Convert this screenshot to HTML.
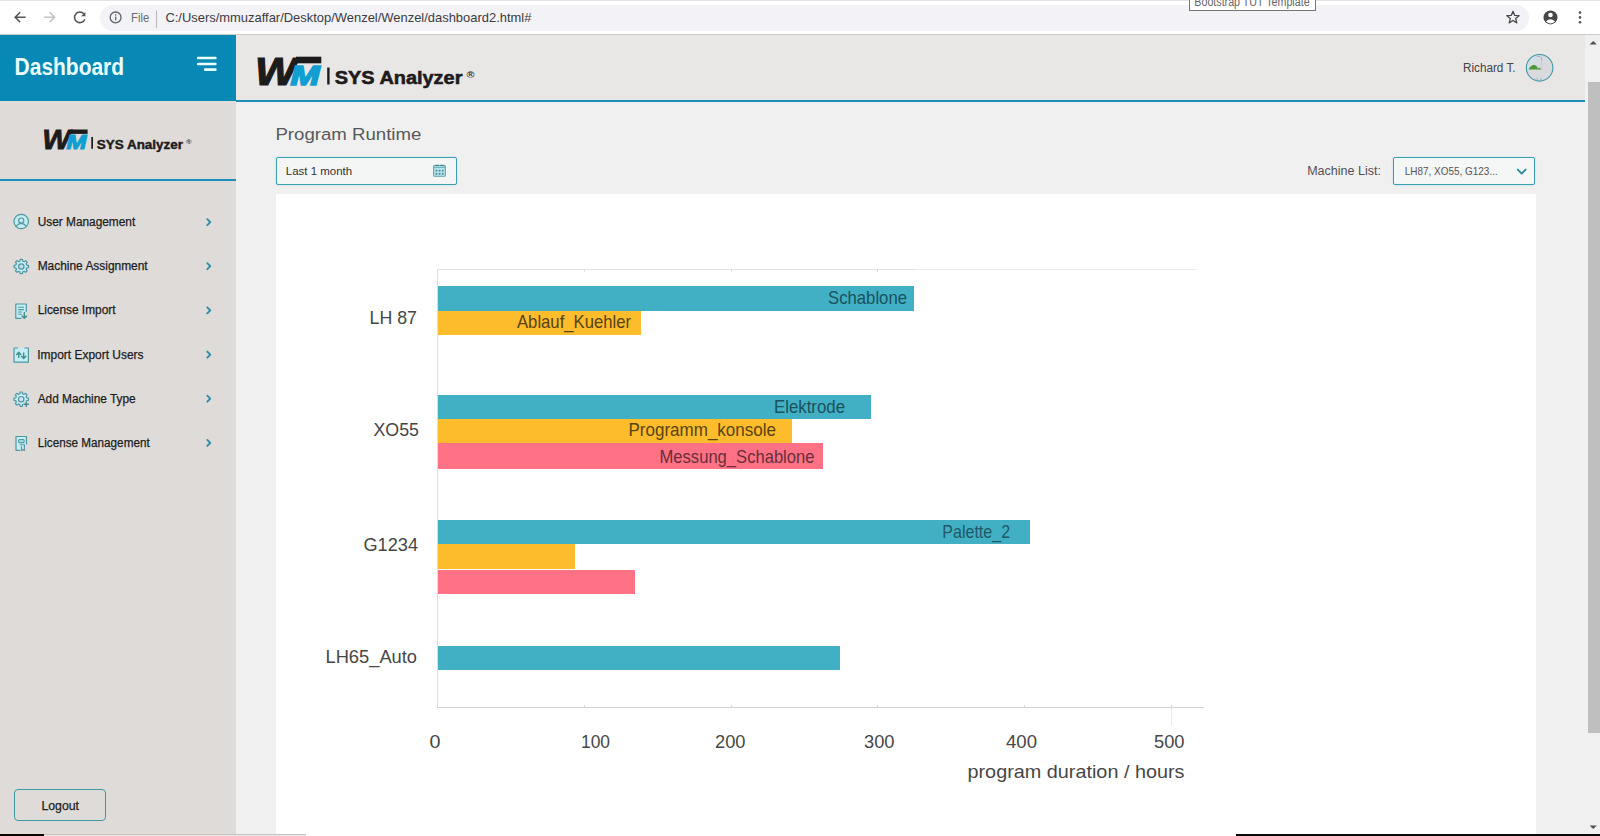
<!DOCTYPE html>
<html lang="en">
<head>
<meta charset="utf-8">
<title>Bootstrap TUT Template</title>
<style>
*{box-sizing:border-box;margin:0;padding:0}
html,body{width:1600px;height:836px;overflow:hidden;background:#f1f0f0;font-family:"Liberation Sans",sans-serif;color:#222}
.abs{position:absolute}
#stage{position:relative;width:1600px;height:836px;overflow:hidden}
/* browser chrome */
#chrome{left:0;top:0;width:1600px;height:35px;background:#fff;border-bottom:1px solid #cbcbcb;border-top:1px solid #e4e4e8}
#omni{left:100px;top:5px;width:1429px;height:26px;border-radius:13px;background:#f2f2f7}
#url{left:165px;top:9px;font-size:13px;color:#333;white-space:nowrap;line-height:16px}
#file{left:131px;top:9px;font-size:13px;color:#666;line-height:16px}
#tip{left:1189px;top:-10px;width:127px;height:21px;border:1px solid #767676;background:#fff}
/* sidebar */
#sidehead{left:0;top:35px;width:236px;height:66px;background:#0889b5}
#dash{left:14px;top:52px;font-size:22px;font-weight:bold;color:#fff;line-height:30px;white-space:nowrap}
#sidebar{left:0;top:101px;width:236px;height:735px;background:#dedbd8}
#sideline{left:0;top:179px;width:236px;height:2px;background:#1a8db8}
.mi{left:0;width:236px;height:24px}
.mi .t{position:absolute;left:37px;top:4px;font-size:12.5px;line-height:16px;color:#1f1f1f;white-space:nowrap}
.mi svg.ic{position:absolute;left:12px;top:3px}
.mi svg.ch{position:absolute;left:204px;top:7px}
#logout{left:14px;top:789px;width:92px;height:32px;border:1.3px solid #3d9aa5;border-radius:4px;font-size:13px;line-height:30px;text-align:center;color:#222}
/* main */
#mainhead{left:236px;top:35px;width:1349px;height:65px;background:#e8e7e6}
#headline{left:236px;top:99.5px;width:1349.5px;height:2px;background:#1a8db8}
#scroll{left:1585px;top:35px;width:15px;height:801px;background:#f1f0f0}
#thumb{left:1587.5px;top:82px;width:12px;height:651px;background:#bfbfbf}
#title{left:275px;top:122px;font-size:18px;line-height:24px;color:#555;white-space:nowrap}
#date{left:276px;top:157px;width:181px;height:28px;background:#f4f5f5;box-shadow:0 0 2px rgba(120,205,225,.6);border:1px solid #3a9fb0;border-radius:2px}
#date .t{position:absolute;left:9px;top:5px;font-size:11.5px;line-height:16px;color:#333;white-space:nowrap}
#mlabel{left:1307px;top:163px;font-size:12.5px;line-height:16px;color:#444;white-space:nowrap}
#msel{left:1393px;top:157px;width:142px;height:28px;background:#f5f6f6;box-shadow:0 0 2px rgba(120,205,225,.6);border:1px solid #3a9fb0;border-radius:2px}
#msel .t{position:absolute;left:11px;top:6px;font-size:10.5px;line-height:14px;color:#444;white-space:nowrap}
#card{left:276px;top:194px;width:1260px;height:642px;background:#fff}
</style>
</head>
<body>
<div id="stage">
  <!-- main area -->
  <div class="abs" id="mainhead"></div>
  <div class="abs" id="headline"></div>
  <div class="abs" id="date"></div>
  <div class="abs" id="msel"></div>
  <div class="abs" id="card"></div>
  <svg class="abs" id="chart" style="left:0;top:0" width="1600" height="836" viewBox="0 0 1600 836" font-family='"Liberation Sans",sans-serif'>
    <g shape-rendering="crispEdges">
      <rect x="437" y="269" width="478" height="1" fill="#e2e2e2"/><rect x="915" y="269" width="281" height="1" fill="#ebebeb"/>
      <rect x="436.5" y="269" width="1" height="439" fill="#dedede"/>
      <rect x="437" y="707" width="767" height="1" fill="#d2d2d2"/>
      <g fill="#d6d6d6">
        <rect x="584" y="705" width="1" height="3"/><rect x="731" y="705" width="1" height="3"/><rect x="877" y="705" width="1" height="3"/><rect x="1024" y="705" width="1" height="3"/><rect x="1171" y="705" width="1" height="4"/>
        <rect x="584" y="269" width="1" height="3" fill="#e0e0e0"/><rect x="731" y="269" width="1" height="3" fill="#e0e0e0"/><rect x="877" y="269" width="1" height="3" fill="#d8d8d8"/>
      </g>
      <rect x="1171" y="709" width="1" height="17" fill="#ececec"/>
      <!-- LH 87 -->
      <rect x="438" y="286" width="476" height="24.5" fill="#41b0c4"/>
      <rect x="438" y="310.5" width="203" height="24.5" fill="#fdbc2c"/>
      <!-- XO55 -->
      <rect x="438" y="394.5" width="433" height="24" fill="#41b0c4"/>
      <rect x="438" y="418.5" width="354" height="24.5" fill="#fdbc2c"/>
      <rect x="438" y="443" width="385" height="25.5" fill="#ff7285"/>
      <!-- G1234 -->
      <rect x="438" y="520" width="591.5" height="24" fill="#41b0c4"/>
      <rect x="438" y="544" width="137" height="24.5" fill="#fdbc2c"/>
      <rect x="438" y="569.5" width="197" height="24.5" fill="#ff7285"/>
      <!-- LH65_Auto -->
      <rect x="438" y="646" width="402" height="23.5" fill="#41b0c4"/>
    </g>
    <g font-size="18.4" fill="#464646">
      <text x="369.5" y="324" textLength="47.5" lengthAdjust="spacingAndGlyphs">LH 87</text>
      <text x="373.5" y="436" textLength="45.5" lengthAdjust="spacingAndGlyphs">XO55</text>
      <text x="363.5" y="550.5" textLength="54.5" lengthAdjust="spacingAndGlyphs">G1234</text>
      <text x="325.5" y="662.5" textLength="91.5" lengthAdjust="spacingAndGlyphs">LH65_Auto</text>
      <text x="429.5" y="747.5" textLength="11" lengthAdjust="spacingAndGlyphs">0</text>
      <text x="581" y="747.5" textLength="29" lengthAdjust="spacingAndGlyphs">100</text>
      <text x="715" y="747.5" textLength="30.5" lengthAdjust="spacingAndGlyphs">200</text>
      <text x="864" y="747.5" textLength="30.5" lengthAdjust="spacingAndGlyphs">300</text>
      <text x="1006" y="747.5" textLength="31" lengthAdjust="spacingAndGlyphs">400</text>
      <text x="1154" y="747.5" textLength="30.5" lengthAdjust="spacingAndGlyphs">500</text>
      <text x="967.5" y="778.4" textLength="217" lengthAdjust="spacingAndGlyphs">program duration / hours</text>
    </g>
    <g font-size="17.7">
      <text x="828" y="304.3" textLength="79" lengthAdjust="spacingAndGlyphs" fill="#1c515c">Schablone</text>
      <text x="517" y="327.8" textLength="114" lengthAdjust="spacingAndGlyphs" fill="#584312">Ablauf_Kuehler</text>
      <text x="774" y="412.8" textLength="71" lengthAdjust="spacingAndGlyphs" fill="#1c515c">Elektrode</text>
      <text x="628.5" y="436" textLength="147.5" lengthAdjust="spacingAndGlyphs" fill="#584312">Programm_konsole</text>
      <text x="659.5" y="462.6" textLength="155" lengthAdjust="spacingAndGlyphs" fill="#6a2e3b">Messung_Schablone</text>
      <text x="942.3" y="537.9" textLength="67.8" lengthAdjust="spacingAndGlyphs" fill="#225866">Palette_2</text>
    </g>
  </svg>
  <!-- sidebar -->
  <div class="abs" id="sidehead"></div>
  <div class="abs" id="sidebar"></div>
  <div class="abs" id="sideline"></div>
  <svg class="abs" id="sidesvg" style="left:0;top:0" width="1600" height="836" viewBox="0 0 1600 836" font-family='"Liberation Sans",sans-serif'>
    <defs>
      <path id="gear" d="M-1.44 -5.41 L-1.09 -7.22 L1.09 -7.22 L1.44 -5.41 L2.81 -4.84 L4.34 -5.87 L5.87 -4.34 L4.84 -2.81 L5.41 -1.44 L7.22 -1.09 L7.22 1.09 L5.41 1.44 L4.84 2.81 L5.87 4.34 L4.34 5.87 L2.81 4.84 L1.44 5.41 L1.09 7.22 L-1.09 7.22 L-1.44 5.41 L-2.81 4.84 L-4.34 5.87 L-5.87 4.34 L-4.84 2.81 L-5.41 1.44 L-7.22 1.09 L-7.22 -1.09 L-5.41 -1.44 L-4.84 -2.81 L-5.87 -4.34 L-4.34 -5.87 L-2.81 -4.84Z"/>
      <path id="chev" d="M0 0 L3 3 L0 6" fill="none" stroke="#2b8ea6" stroke-width="1.9" stroke-linecap="round" stroke-linejoin="round"/>
    </defs>
    <!-- hamburger -->
    <g fill="#eaffff">
      <rect x="197" y="56.8" width="19.6" height="2.5" rx="1"/>
      <rect x="197" y="62.7" width="19.6" height="2.5" rx="1"/>
      <rect x="204" y="68.3" width="12.6" height="2.6" rx="1"/>
    </g>
    <!-- menu icons -->
    <g stroke="#4f97a3" stroke-width="1.2" fill="#c6edf2" stroke-linejoin="round" stroke-linecap="round">
      <!-- user -->
      <circle cx="21.2" cy="221.5" r="7.2"/>
      <circle cx="21.2" cy="220.6" r="2.6"/>
      <path d="M15.9 226.3 Q21.2 220.4 26.5 226.3" fill="none"/>
      <!-- gear -->
      <use href="#gear" x="21.3" y="266.5"/>
      <circle cx="21.3" cy="266.5" r="2.7" fill="#c9d8ee"/>
      <!-- license import -->
      <path d="M26.3 311.5 V304 H15.8 V318.3 H21"/>
      <path d="M18.6 307.3 H23.6 M18.6 309.6 H23.6 M18.6 312 H21.4 M18.6 314.3 H21.4" stroke-width="1.1" fill="none"/>
      <path d="M24.3 312.5 V318 M22 316 L24.3 318.3 L26.6 316" fill="none" stroke="#3f8f8f" stroke-width="1.4"/>
      <!-- import export -->
      <path d="M17.6 348 H14 V362.2 H28.4 V348 H24.8"/>
      <path d="M18.7 357.6 V352.4 M16.6 354.4 L18.7 352.2 L20.8 354.4 M23.7 353 V358.2 M21.6 356.2 L23.7 358.4 L25.8 356.2" fill="none" stroke="#3f8f8f" stroke-width="1.4"/>
      <!-- add machine -->
      <use href="#gear" x="21.2" y="399.2"/>
      <circle cx="21.2" cy="399.2" r="2.7" fill="#c9e6f4"/>
      <circle cx="26.2" cy="404.3" r="2.9" fill="#dedbd8" stroke="none"/><path d="M26.2 402.2 V406.4 M24.1 404.3 H28.3" fill="none" stroke="#3f8f8f" stroke-width="1.4"/>
      <!-- license mgmt -->
      <path d="M26.5 444 V436.5 H16 V450.3 H19.6"/>
      <rect x="18.6" y="439.6" width="5.6" height="3" rx="1" stroke-width="1.1" fill="#b4e4f0"/>
      <path d="M20.2 444.8 H24.4 V450.6 L22.9 449.3 L21.4 450.6 V446.6" fill="none" stroke-width="1.1"/>
    </g>
    <!-- chevrons -->
    <use href="#chev" x="207.3" y="219.2"/>
    <use href="#chev" x="207.3" y="263.2"/>
    <use href="#chev" x="207.3" y="307.3"/>
    <use href="#chev" x="207.3" y="351.6"/>
    <use href="#chev" x="207.3" y="395.7"/>
    <use href="#chev" x="207.3" y="439.9"/>
    <!-- menu text -->
    <g font-size="12.5" fill="#1c1c1c" stroke="#1c1c1c" stroke-width="0.25">
      <text x="37.7" y="226.2" textLength="97.5" lengthAdjust="spacingAndGlyphs">User Management</text>
      <text x="37.7" y="270.3" textLength="110" lengthAdjust="spacingAndGlyphs">Machine Assignment</text>
      <text x="37.7" y="314.4" textLength="77.8" lengthAdjust="spacingAndGlyphs">License Import</text>
      <text x="37.3" y="358.7" textLength="106.2" lengthAdjust="spacingAndGlyphs">Import Export Users</text>
      <text x="37.7" y="402.8" textLength="98" lengthAdjust="spacingAndGlyphs">Add Machine Type</text>
      <text x="37.7" y="447" textLength="112" lengthAdjust="spacingAndGlyphs">License Management</text>
    </g>
  </svg>
  <svg class="abs" id="topsvg" style="left:0;top:0" width="1600" height="836" viewBox="0 0 1600 836" font-family='"Liberation Sans",sans-serif'>
    <!-- Dashboard title -->
    <text x="14.6" y="74.7" font-size="23.2" font-weight="bold" fill="#ecffff" textLength="109.5" lengthAdjust="spacingAndGlyphs">Dashboard</text>
    <!-- main logo -->
    <g id="logo1">
      <rect x="296" y="56.7" width="25.3" height="6.6" fill="#1d1b1b"/>
      <text transform="translate(255.1 85.2) scale(1.11 1)" font-size="39.5" font-weight="bold" font-style="italic" fill="#1d1b1b" stroke="#1d1b1b" stroke-width="1.2">W</text>
      <text transform="translate(290.6 85.2) scale(1.24 1)" font-size="28.2" font-weight="bold" font-style="italic" fill="#109fd0" stroke="#109fd0" stroke-width="1.7">M</text>
      <rect x="327.2" y="67.5" width="2.4" height="17" fill="#1d1b1b"/>
      <text x="334.8" y="84.1" font-size="17.6" font-weight="bold" fill="#1d1b1b" stroke="#1d1b1b" stroke-width="0.55" textLength="127.6" lengthAdjust="spacingAndGlyphs">SYS Analyzer</text>
      <text x="466.5" y="77.5" font-size="8.5" font-weight="bold" fill="#333" textLength="8" lengthAdjust="spacingAndGlyphs">®</text>
    </g>
    <!-- sidebar logo -->
    <g id="logo2">
      <rect x="70.3" y="129.5" width="17.3" height="4.4" fill="#1d1b1b"/>
      <text transform="translate(42.3 148.9) scale(1.11 1)" font-size="26.9" font-weight="bold" font-style="italic" fill="#1d1b1b" stroke="#1d1b1b" stroke-width="0.8">W</text>
      <text transform="translate(66.5 148.9) scale(1.24 1)" font-size="19.3" font-weight="bold" font-style="italic" fill="#109fd0" stroke="#109fd0" stroke-width="1.1">M</text>
      <rect x="91.3" y="137" width="1.7" height="11.8" fill="#1d1b1b"/>
      <text x="96.8" y="148.7" font-size="12.1" font-weight="bold" fill="#1d1b1b" stroke="#1d1b1b" stroke-width="0.4" textLength="86.2" lengthAdjust="spacingAndGlyphs">SYS Analyzer</text>
      <text x="186" y="144.2" font-size="6" font-weight="bold" fill="#444" textLength="5.6" lengthAdjust="spacingAndGlyphs">®</text>
    </g>
  </svg>
  <div class="abs" id="logout"></div>
  <!-- scrollbar -->
  <div class="abs" id="scroll"></div>
  <div class="abs" id="thumb"></div>
  <svg class="abs" id="miscsvg" style="left:0;top:0" width="1600" height="836" viewBox="0 0 1600 836" font-family='"Liberation Sans",sans-serif'>
    <text x="275.4" y="139.7" font-size="16.8" fill="#58595b" textLength="146" lengthAdjust="spacingAndGlyphs">Program Runtime</text>
    <text x="285.8" y="174.7" font-size="11.3" fill="#333" textLength="66.3" lengthAdjust="spacingAndGlyphs">Last 1 month</text>
    <text x="1307.2" y="175" font-size="12.5" fill="#505050" textLength="73.8" lengthAdjust="spacingAndGlyphs">Machine List:</text>
    <text x="1404.7" y="175" font-size="10.4" fill="#555" textLength="93" lengthAdjust="spacingAndGlyphs">LH87, XO55, G123...</text>
    <text x="41.4" y="810.1" font-size="12.2" fill="#222" stroke="#222" stroke-width="0.25" textLength="37.6" lengthAdjust="spacingAndGlyphs">Logout</text>
    <!-- user name + avatar -->
    <text x="1463" y="71.6" font-size="12" fill="#444" textLength="52.5" lengthAdjust="spacingAndGlyphs">Richard T.</text>
    <linearGradient id="avg" x1="0" y1="0" x2="0.6" y2="1"><stop offset="0" stop-color="#cfe2ee"/><stop offset="0.55" stop-color="#d9dadc"/></linearGradient>
    <circle cx="1539.6" cy="67.8" r="13.3" fill="url(#avg)" stroke="#3f98a9" stroke-width="1.1"/>
    <path d="M1528.6 69.5 Q1530.6 65.2 1534 64.8 Q1536.6 65.2 1538 68.4 L1539.6 67.4 L1541.4 69.5 Z" fill="#4c9a3a"/>
    <path d="M1536.8 56.4 H1540.2 L1541.6 57.8 V60.6" fill="none" stroke="#a9a4c4" stroke-width="0.9"/>
    <path d="M1541.6 60.6 V69.6" fill="none" stroke="#c9c4cf" stroke-width="0.8"/>
    <path d="M1535.5 79.6 q1.2 -2 2.4 0 M1540 79.8 q1.2 -2 2.4 0" fill="none" stroke="#7fb6c4" stroke-width="0.9"/>
    <!-- calendar icon -->
    <g>
      <rect x="433.7" y="165.6" width="11.6" height="10.6" rx="0.8" fill="#c1ebf1" stroke="#5f9fac" stroke-width="1.1"/>
      <path d="M433.7 167.6 H445.3" stroke="#6aa5b1" stroke-width="0.9"/>
      <path d="M435.6 165.3 H438.8 M440.4 165.3 H443.6" stroke="#447f8c" stroke-width="1.2"/>
      <g fill="#4f93a2"><rect x="435.5" y="169.7" width="1.9" height="1.9"/><rect x="438.6" y="169.7" width="1.9" height="1.9"/><rect x="441.7" y="169.7" width="1.9" height="1.9"/><rect x="435.5" y="172.9" width="1.9" height="1.9"/><rect x="438.6" y="172.9" width="1.9" height="1.9"/><rect x="441.7" y="172.9" width="1.9" height="1.9"/></g>
    </g>
    <!-- select chevron -->
    <path d="M1517.8 169.6 L1521.7 173.6 L1525.6 169.6" fill="none" stroke="#2b8da1" stroke-width="1.9" stroke-linecap="round" stroke-linejoin="round"/>
    <!-- scrollbar arrows -->
    <path d="M1589.6 44.6 L1593.2 41 L1596.8 44.6 Z" fill="#505050"/>
    <path d="M1589.6 825.4 L1593.2 829 L1596.8 825.4 Z" fill="#505050"/>
  </svg>
  <div class="abs" style="left:0;top:834px;width:44px;height:2px;background:#050505"></div>
  <div class="abs" style="left:44px;top:834px;width:262px;height:2px;background:#e9e9e9;border-top:1px solid #c4c4c4"></div>
  <div class="abs" style="left:1236px;top:833.5px;width:364px;height:2.5px;background:#0a0a0a"></div>
  <!-- browser chrome -->
  <div class="abs" id="chrome"></div>
  <div class="abs" id="omni"></div>
  <svg class="abs" id="chromesvg" style="left:0;top:0" width="1600" height="36" viewBox="0 0 1600 36">
    <text x="131" y="22.4" font-size="13.2" fill="#6a6a6a" font-family='"Liberation Sans",sans-serif' textLength="18.2" lengthAdjust="spacingAndGlyphs">File</text>
    <text x="165.4" y="22.4" font-size="13.4" fill="#3c3c3c" font-family='"Liberation Sans",sans-serif' textLength="366" lengthAdjust="spacingAndGlyphs">C:/Users/mmuzaffar/Desktop/Wenzel/Wenzel/dashboard2.html#</text>
    <!-- back -->
    <path d="M25.6 17.2 H15.4 M20.2 12.2 L15.2 17.2 L20.2 22.2" fill="none" stroke="#555" stroke-width="1.6" stroke-linejoin="miter"/>
    <!-- forward -->
    <path d="M44.2 17.2 H54.4 M49.6 12.2 L54.6 17.2 L49.6 22.2" fill="none" stroke="#c2c2c2" stroke-width="1.6"/>
    <!-- reload -->
    <path d="M83.8 13.8 A5.3 5.3 0 1 0 84.8 19.2" fill="none" stroke="#555" stroke-width="1.6"/>
    <path d="M85.4 12 V16.3 H81.1 Z" fill="#555"/>
    <!-- info -->
    <circle cx="115.6" cy="17.4" r="5.4" fill="none" stroke="#5f6368" stroke-width="1.3"/>
    <rect x="115" y="16.6" width="1.3" height="3.8" fill="#5f6368"/><rect x="115" y="14.2" width="1.3" height="1.4" fill="#5f6368"/>
    <!-- separator -->
    <rect x="156" y="10.5" width="1" height="17.5" fill="#b8b8b8"/>
    <!-- star -->
    <path d="M1513 11.3 L1514.7 15.4 L1519.1 15.7 L1515.7 18.6 L1516.8 22.9 L1513 20.5 L1509.2 22.9 L1510.3 18.6 L1506.9 15.7 L1511.3 15.4 Z" fill="none" stroke="#4a4a4a" stroke-width="1.3" stroke-linejoin="round"/>
    <!-- profile -->
    <circle cx="1550.5" cy="17.4" r="7" fill="#474747"/>
    <circle cx="1550.5" cy="15" r="2.3" fill="#fff"/>
    <path d="M1545.9 21.6 Q1550.5 17 1555.1 21.6 Q1550.5 25.6 1545.9 21.6Z" fill="#fff"/>
    <!-- menu dots -->
    <circle cx="1580" cy="12.6" r="1.3" fill="#555"/><circle cx="1580" cy="17.4" r="1.3" fill="#555"/><circle cx="1580" cy="22.2" r="1.3" fill="#555"/>
  </svg>
  <div class="abs" id="tip"></div>
  <svg class="abs" style="left:1189px;top:0" width="130" height="12" viewBox="1189 0 130 12"><text x="1194.3" y="5.6" font-size="12" fill="#666" font-family='"Liberation Sans",sans-serif' textLength="115.3" lengthAdjust="spacingAndGlyphs">Bootstrap TUT Template</text></svg>
</div>
</body>
</html>
